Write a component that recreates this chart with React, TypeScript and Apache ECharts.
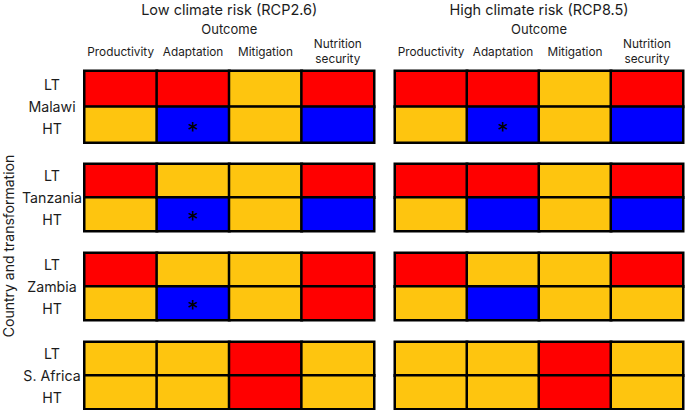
import React, { useEffect, useRef } from 'react';
import * as echarts from 'echarts';

const outcomes = ['Productivity', 'Adaptation', 'Mitigation', 'Nutrition\nsecurity'];
const countries = ['Malawi', 'Tanzania', 'Zambia', 'S. Africa'];
const transformations = ['HT', 'LT']; // bottom row, top row
const scenarios = ['Low climate risk (RCP2.6)', 'High climate risk (RCP8.5)'];
const xTitle = 'Outcome';
const yTitle = 'Country and transformation';

// 0 = red, 1 = amber, 2 = blue ; one row per country, one value per outcome
const lowLT = [[0, 0, 1, 0], [0, 1, 1, 0], [0, 1, 1, 0], [1, 1, 0, 1]];
const lowHT = [[1, 2, 1, 2], [1, 2, 1, 2], [1, 2, 1, 0], [1, 1, 0, 1]];
const highLT = [[0, 0, 1, 0], [0, 0, 1, 0], [0, 1, 1, 0], [1, 1, 0, 1]];
const highHT = [[1, 2, 1, 2], [1, 2, 1, 2], [1, 2, 1, 1], [1, 1, 0, 1]];
// starred cells in HT row: [countryIndex, outcomeIndex]
const lowStars = [[0, 1], [1, 1], [2, 1]];
const highStars = [[0, 1]];

const scenarioLT = [lowLT, highLT];
const scenarioHT = [lowHT, highHT];
const scenarioStars = [lowStars, highStars];

const RED = '#ff0000';
const AMBER = '#fec50f';
const BLUE = '#0000ff';
const TXT = '#1c1c1c';
const FONT = 'Inter, Roboto, sans-serif';

export default function App() {
  const ref = useRef<HTMLDivElement>(null);
  useEffect(() => {
    if (!ref.current) return;
    const chart = echarts.init(ref.current, null, { renderer: 'svg' });

    const panelLeft = [84.5, 395];
    const panelWidth = [289.5, 288];
    const blockTop = [71, 164, 253, 342];
    const blockHeight = [71.5, 67, 67, 67];
    const panelCenter = panelLeft.map((l, i) => l + panelWidth[i] / 2);

    const grid: any[] = [];
    const xAxis: any[] = [];
    const yAxis: any[] = [];
    const series: any[] = [];

    for (let p = 0; p < 2; p++) {
      for (let c = 0; c < countries.length; c++) {
        const g = p * 4 + c;
        grid.push({
          left: panelLeft[p],
          width: panelWidth[p],
          top: blockTop[c],
          height: blockHeight[c],
          containLabel: false,
        });
        xAxis.push({
          gridIndex: g,
          type: 'category',
          data: outcomes,
          position: 'top',
          axisLine: { show: false },
          axisTick: { show: false },
          splitLine: { show: false },
          axisLabel: {
            show: c === 0,
            interval: 0,
            verticalAlign: 'middle',
            margin: 19.5,
            fontSize: 11.8,
            lineHeight: 15,
            color: TXT,
            fontFamily: FONT,
          },
        });
        yAxis.push({
          gridIndex: g,
          type: 'category',
          data: transformations,
          axisLine: { show: false },
          axisTick: { show: false },
          splitLine: { show: false },
          axisLabel: { show: false },
        });
        yAxis.push({
          gridIndex: g,
          type: 'category',
          data: [countries[c]],
          position: 'left',
          axisLine: { show: false },
          axisTick: { show: false },
          splitLine: { show: false },
          axisLabel: {
            show: p === 0,
            formatter: (v: string) => `${transformations[1]}\n${v}\n${transformations[0]}`,
            align: 'center',
            margin: 32.5,
            fontSize: 14.2,
            lineHeight: 22,
            color: TXT,
            fontFamily: FONT,
          },
        });
        const stars = scenarioStars[p].filter((s) => s[0] === c).map((s) => s[1]);
        const data: any[] = [];
        outcomes.forEach((_, i) => {
          data.push({ value: [i, 1, scenarioLT[p][c][i]] });
          const item: any = { value: [i, 0, scenarioHT[p][c][i]] };
          if (stars.includes(i)) item.label = { show: true };
          data.push(item);
        });
        series.push({
          type: 'heatmap',
          xAxisIndex: g,
          yAxisIndex: 2 * g,
          data,
          itemStyle: { borderColor: '#000', borderWidth: 2.5 },
          label: {
            show: false,
            formatter: '*',
            fontSize: 23,
            color: '#000',
            fontFamily: FONT,
            offset: [0, 6],
          },
          emphasis: { disabled: true },
        });
      }
    }

    const graphic: any[] = [];
    scenarios.forEach((s, p) => {
      graphic.push({
        type: 'text',
        x: panelCenter[p],
        y: 9,
        style: {
          text: s,
          fontSize: 14.5,
          fontFamily: FONT,
          fill: TXT,
          textAlign: 'center',
          textVerticalAlign: 'middle',
        },
      });
      graphic.push({
        type: 'text',
        x: panelCenter[p],
        y: 28.5,
        style: {
          text: xTitle,
          fontSize: 13,
          fontFamily: FONT,
          fill: TXT,
          textAlign: 'center',
          textVerticalAlign: 'middle',
        },
      });
    });
    graphic.push({
      type: 'text',
      x: 8,
      y: 246,
      rotation: Math.PI / 2,
      style: {
        text: yTitle,
        fontSize: 14,
        fontFamily: FONT,
        fill: TXT,
        textAlign: 'center',
        textVerticalAlign: 'middle',
      },
    });

    chart.setOption({
      animation: false,
      backgroundColor: '#fff',
      grid,
      xAxis,
      yAxis,
      visualMap: {
        type: 'piecewise',
        show: false,
        dimension: 2,
        seriesIndex: series.map((_, i) => i),
        pieces: [
          { value: 0, color: RED },
          { value: 1, color: AMBER },
          { value: 2, color: BLUE },
        ],
      },
      series,
      graphic,
    });
    return () => chart.dispose();
  }, []);
  return (
    <div
      ref={ref}
      style={{ position: 'fixed', left: 0, top: 0, width: 685, height: 410 }}
    />
  );
}
